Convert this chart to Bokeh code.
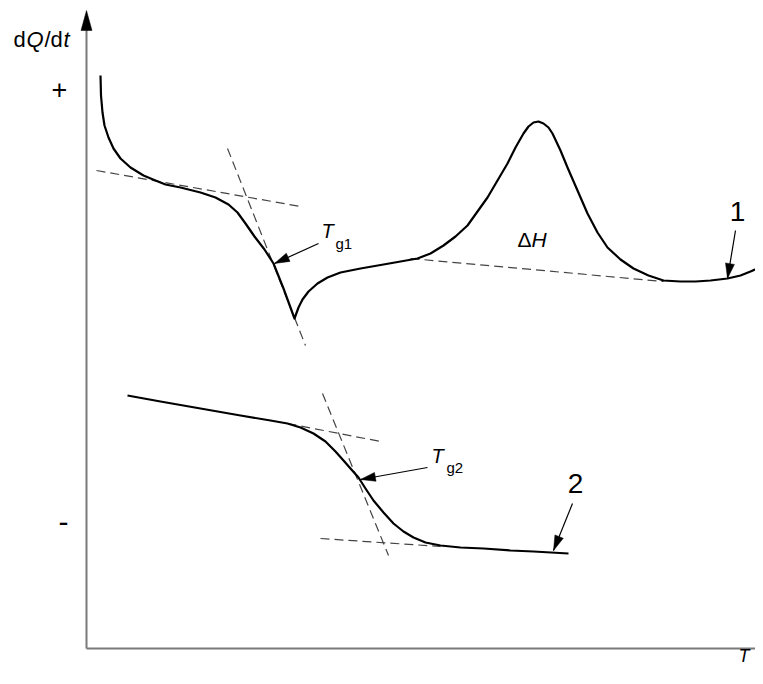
import numpy as np
from bokeh.plotting import figure
from bokeh.models import Range1d
from bokeh.core.properties import value
from bokeh.embed import file_html
from bokeh.resources import INLINE

# ---- schematic data (screen-like units: x to the right, y downward) ----
curve1_x = [100, 100.5, 102, 104, 108, 113, 120, 130, 143, 155, 165, 180, 200, 215, 228, 237, 245, 254,
            264, 273, 283, 294, 298, 302, 308, 317, 327, 340, 360, 383, 400, 417, 430, 443, 455, 467,
            477, 487, 497, 507, 515, 523, 528, 533, 538, 543, 548, 552, 560, 567, 577, 587, 597, 607,
            620, 633, 648, 663, 680, 695, 710, 727, 740, 750, 763]
curve1_y = [75, 95, 112, 125, 137, 148, 158, 167, 175, 180, 184, 187, 192, 197, 204, 212, 223, 236,
            249, 263, 288, 318, 307, 299, 291, 283, 277, 272, 268, 264, 261, 258, 253, 245, 236, 225,
            211, 197, 180, 163, 147, 133, 126, 122, 121, 123, 127, 133, 150, 167, 190, 213, 232, 247,
            259, 268, 275, 280, 281, 281, 280, 278, 275, 271, 265]

curve2_x = [127, 160, 200, 240, 270, 287, 300, 313, 325, 335, 343, 350, 358, 365, 373, 383, 393, 403,
            413, 425, 440, 460, 483, 510, 533, 568]
curve2_y = [395, 401, 408, 415, 420, 423, 427, 433, 441, 451, 460, 468, 477, 488, 500, 512, 523, 531,
            537, 542, 545, 547, 548, 550, 551, 553]

# tangent (construction) lines: x0, y0, x1, y1
tan_x0 = [96, 227, 410, 287, 322, 320]
tan_y0 = [170, 148, 258, 423, 393, 538]
tan_x1 = [300, 305, 663, 380, 388, 440]
tan_y1 = [206, 345, 281, 441, 555, 546]

# label arrows: from (x0,y0) to tip (x1,y1)
arr_x0 = [318, 427, 735, 572]
arr_y0 = [243, 467, 230, 503]
arr_x1 = [274, 360, 727, 553]
arr_y1 = [263, 479, 278, 550]

# axes
axis_origin = (86, 648)
axis_x_end = 763
axis_y_tip = 10

p = figure(width=755, height=668, output_backend="svg", toolbar_location=None,
           x_range=Range1d(0, 755), y_range=Range1d(668, 0), min_border=0)
p.axis.visible = False
p.grid.visible = False
p.outline_line_color = None
p.background_fill_color = "white"
p.border_fill_color = "white"

FONT = "Liberation Sans"

# axes lines
ox, oy = axis_origin
p.segment(x0=[ox, ox], y0=[oy, oy], x1=[ox, axis_x_end], y1=[axis_y_tip + 12, oy],
          line_color="#7a7a7a", line_width=2)
# y-axis arrow head
p.patch(x=[ox, ox - 5.5, ox + 5.5], y=[axis_y_tip, axis_y_tip + 20, axis_y_tip + 20],
        fill_color="black", line_color="black", line_width=0.5)

# tangent lines
p.segment(x0=tan_x0, y0=tan_y0, x1=tan_x1, y1=tan_y1, line_color="#444444",
          line_width=1.2, line_dash="9 5")

# curves
p.line(curve1_x, curve1_y, line_color="black", line_width=2.2, line_join="round")
p.line(curve2_x, curve2_y, line_color="black", line_width=2.2, line_join="round")

# label arrows
p.segment(x0=arr_x0, y0=arr_y0, x1=arr_x1, y1=arr_y1, line_color="black", line_width=1.2)
L, W = 15, 4.5
hx, hy = [], []
for x0, y0, x1, y1 in zip(arr_x0, arr_y0, arr_x1, arr_y1):
    d = np.array([x1 - x0, y1 - y0], dtype=float)
    d /= np.hypot(*d)
    n = np.array([-d[1], d[0]])
    b = np.array([x1, y1]) - L * d
    hx.append([x1, b[0] + W * n[0], b[0] - W * n[0]])
    hy.append([y1, b[1] + W * n[1], b[1] - W * n[1]])
p.patches(xs=hx, ys=hy, fill_color="black", line_color="black", line_width=0.5)

DY = -9  # baseline correction

def txt(x, y, s, size, italic=False, align="left"):
    p.text(x=[x], y=[y + DY], text=[s], text_font=value(FONT), text_font_size=f"{size}px",
           text_font_style="italic" if italic else "normal", text_align=align,
           text_baseline="alphabetic", text_color="black")

# y-axis label dQ/dt
txt(13, 48, "d", 22)
txt(26, 48, "Q", 22, italic=True)
txt(44, 48, "/d", 22)
txt(63, 48, "t", 22, italic=True)
# + / -
txt(59, 98, "+", 27, align="center")
txt(63, 530, "-", 30, align="center")
# T axis label
txt(738, 664, "T", 18, italic=True)
# Tg1
txt(321, 239, "T", 20, italic=True)
txt(335, 252, "g1", 15)
# Tg2
txt(431, 464, "T", 20, italic=True)
txt(446, 476, "g2", 15)
# ΔH
txt(517, 248, "Δ", 21)
txt(531, 248, "H", 21, italic=True)
# curve numbers
txt(737, 220, "1", 28, align="center")
txt(575, 492, "2", 28, align="center")

open("out.html", "w").write(file_html(p, INLINE))
